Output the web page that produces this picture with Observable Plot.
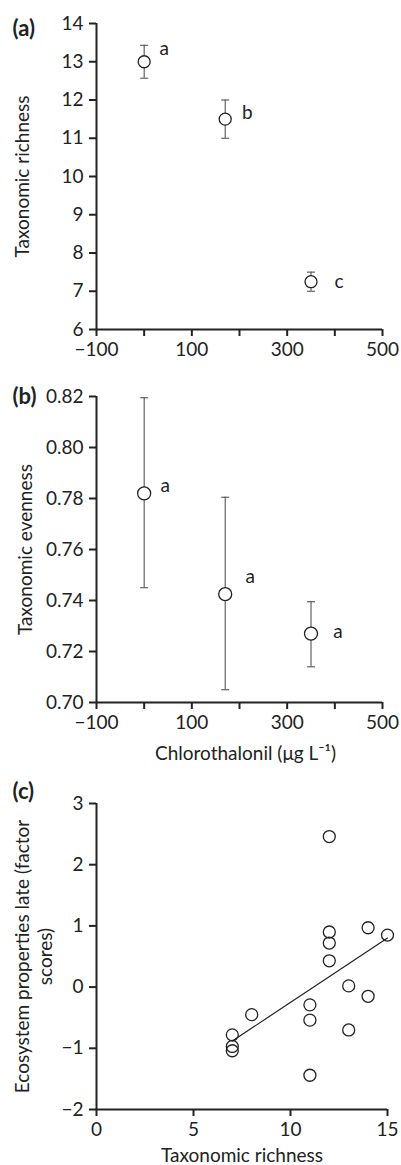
<!DOCTYPE html>
<html><head><meta charset="utf-8">
<script src="https://cdn.jsdelivr.net/npm/d3@7"></script>
<script src="https://cdn.jsdelivr.net/npm/@observablehq/plot@0.6"></script>
<style>
body{margin:0;background:#fff;}
#chart{width:401px;}
#chart svg{display:block;}
</style></head><body><div id="chart"></div>
<script>
// ---- data ----
const concentration = [0, 170, 350];
const richnessMean = [13.0, 11.5, 7.25];
const richnessLow = [12.57, 11.0, 7.0];
const richnessHigh = [13.43, 12.0, 7.5];
const richnessGroup = ["a", "b", "c"];
const evennessMean = [0.782, 0.7425, 0.727];
const evennessLow = [0.745, 0.705, 0.714];
const evennessHigh = [0.8195, 0.7805, 0.7395];
const evennessGroup = ["a", "a", "a"];
const siteRichness = [12, 12, 12, 12, 14, 15, 13, 14, 11, 11, 13, 11, 8, 7, 7, 7];
const siteScore = [2.46, 0.90, 0.72, 0.43, 0.97, 0.85, 0.02, -0.15, -0.29, -0.54, -0.70, -1.44, -0.45, -0.78, -0.97, -1.04];
const concTicks = [-100, 0, 100, 200, 300, 400, 500];
const concLabelled = [-100, 100, 300, 500];
const richTicks = [6, 7, 8, 9, 10, 11, 12, 13, 14];
const evenTicks = [0.70, 0.72, 0.74, 0.76, 0.78, 0.80, 0.82];
const scoreTicks = [-2, -1, 0, 1, 2, 3];
const siteRichTicks = [0, 5, 10, 15];

// ---- style ----
const FONT = "Lato, 'Open Sans', sans-serif";
const FS = 19;
const INK = "#222";
const cap = {draw(ctx) { ctx.moveTo(-4, 0); ctx.lineTo(4, 0); }};
const minus = s => String(s).replace("-", "\u2212");

function axes(xDomain, yDomain, xTicks, yTicks, xFmt, yFmt) {
  return [
    Plot.axisX({ticks: xTicks, tickSize: 7, tickPadding: 6, tickFormat: xFmt, strokeWidth: 2, stroke: INK, fill: INK, fontSize: FS, label: null}),
    Plot.axisY({ticks: yTicks, tickSize: 7, tickPadding: 6, tickFormat: yFmt, strokeWidth: 2, stroke: INK, fill: INK, fontSize: FS, label: null}),
    Plot.ruleX([xDomain[0]], {y1: yDomain[0], y2: yDomain[1], stroke: INK, strokeWidth: 2}),
    Plot.ruleY([yDomain[0]], {x1: xDomain[0], x2: xDomain[1], stroke: INK, strokeWidth: 2})
  ];
}
function panelLabel(txt, dy) {
  return Plot.text([txt], {frameAnchor: "top-left", dx: -84, dy, textAnchor: "start", lineAnchor: "middle", fontWeight: "bold", fontSize: 22, fill: INK});
}
function yTitle(txt, dx) {
  return Plot.text([txt], {frameAnchor: "left", dx, rotate: -90, textAnchor: "middle", lineAnchor: "middle", lineHeight: 1.2, fontSize: FS, fill: INK});
}
const concFmt = d => concLabelled.includes(d) ? minus(d) : "";
const idx = d3.range(concentration.length);

// ---- panel (a) ----
const nudgeA = [[20, -13], [22, -6], [28, 0]];
const a = Plot.plot({
  width: 401, height: 370,
  marginLeft: 96, marginRight: 19, marginTop: 23, marginBottom: 41,
  style: {fontFamily: FONT, fontSize: FS + "px", color: INK},
  x: {domain: [-100, 500], axis: null},
  y: {domain: [6, 14], axis: null},
  marks: [
    ...axes([-100, 500], [6, 14], concTicks, richTicks, concFmt, d => d),
    Plot.ruleX(idx, {x: i => concentration[i], y1: i => richnessLow[i], y2: i => richnessHigh[i], stroke: "#444", strokeWidth: 1}),
    Plot.dot(idx, {x: i => concentration[i], y: i => richnessLow[i], symbol: cap, stroke: "#444", fill: "none", strokeWidth: 1}),
    Plot.dot(idx, {x: i => concentration[i], y: i => richnessHigh[i], symbol: cap, stroke: "#444", fill: "none", strokeWidth: 1}),
    Plot.dot(idx, {x: i => concentration[i], y: i => richnessMean[i], r: 6, stroke: INK, fill: "white", strokeWidth: 1.3}),
    ...idx.map(i => Plot.text([i], {x: concentration[i], y: richnessMean[i], text: () => richnessGroup[i], dx: nudgeA[i][0], dy: nudgeA[i][1], fontSize: FS, fill: INK})),
    yTitle("Taxonomic richness", -75),
    panelLabel("(a)", 5)
  ]
});

// ---- panel (b) ----
const nudgeB = [[21, -7], [25, -17], [27, -2]];
const b = Plot.plot({
  width: 401, height: 400,
  marginLeft: 96, marginRight: 19, marginTop: 26, marginBottom: 68,
  style: {fontFamily: FONT, fontSize: FS + "px", color: INK},
  x: {domain: [-100, 500], axis: null},
  y: {domain: [0.70, 0.82], axis: null},
  marks: [
    ...axes([-100, 500], [0.70, 0.82], concTicks, evenTicks, concFmt, d3.format(".2f")),
    Plot.ruleX(idx, {x: i => concentration[i], y1: i => evennessLow[i], y2: i => evennessHigh[i], stroke: "#444", strokeWidth: 1}),
    Plot.dot(idx, {x: i => concentration[i], y: i => evennessLow[i], symbol: cap, stroke: "#444", fill: "none", strokeWidth: 1}),
    Plot.dot(idx, {x: i => concentration[i], y: i => evennessHigh[i], symbol: cap, stroke: "#444", fill: "none", strokeWidth: 1}),
    Plot.dot(idx, {x: i => concentration[i], y: i => evennessMean[i], r: 6.5, stroke: INK, fill: "white", strokeWidth: 1.3}),
    ...idx.map(i => Plot.text([i], {x: concentration[i], y: evennessMean[i], text: () => evennessGroup[i], dx: nudgeB[i][0], dy: nudgeB[i][1], fontSize: FS, fill: INK})),
    yTitle("Taxonomic evenness", -72),
    Plot.text(["Chlorothalonil (\u03bcg L\u207b\u00b9)"], {frameAnchor: "bottom", dy: 51, dx: 6, lineAnchor: "middle", fontSize: FS, fill: INK}),
    panelLabel("(b)", 0)
  ]
});

// ---- panel (c) ----
const sites = d3.range(siteRichness.length);
const c = Plot.plot({
  width: 401, height: 395,
  marginLeft: 96, marginRight: 14, marginTop: 33, marginBottom: 56,
  style: {fontFamily: FONT, fontSize: FS + "px", color: INK},
  x: {domain: [0, 15], axis: null},
  y: {domain: [-2, 3], axis: null},
  marks: [
    ...axes([0, 15], [-2, 3], siteRichTicks, scoreTicks, d => d, d => minus(d)),
    Plot.linearRegressionY(sites, {x: i => siteRichness[i], y: i => siteScore[i], ci: 0, stroke: INK, strokeWidth: 1.2}),
    Plot.dot(sites, {x: i => siteRichness[i], y: i => siteScore[i], r: 6, stroke: INK, fill: "none", strokeWidth: 1.3}),
    yTitle("Ecosystem properties late (factor\nscores)", -63),
    Plot.text(["Taxonomic richness"], {frameAnchor: "bottom", dy: 46, lineAnchor: "middle", fontSize: FS, fill: INK}),
    panelLabel("(c)", -12)
  ]
});

const root = document.getElementById("chart");
root.append(a, b, c);
</script></body></html>
